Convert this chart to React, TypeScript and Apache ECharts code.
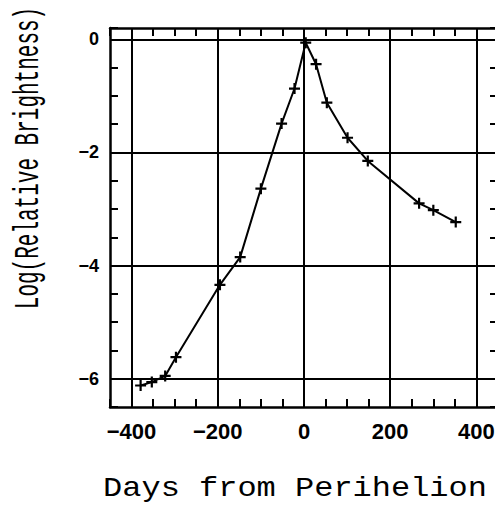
import React, { useEffect, useRef } from "react";
import * as echarts from "echarts";

const days = [-379, -353, -322, -297, -195, -148, -100, -52, -22, 4, 28, 53, 101, 148, 267, 300, 352];
const logBrightness = [-6.12, -6.06, -5.95, -5.62, -4.34, -3.85, -2.64, -1.49, -0.87, -0.06, -0.44, -1.12, -1.74, -2.15, -2.9, -3.02, -3.23];
const xMajorTicks = [-400, -200, 0, 200, 400];
const yMajorTicks = [0, -2, -4, -6];
const xTitle = "Days from Perihelion";
const yTitle = "Log(Relative Brightness)";

const fmt = (v: number) => (v < 0 ? "\u2212" + String(-v) : String(Math.abs(v)));

export default function App() {
  const ref = useRef<HTMLDivElement>(null);
  useEffect(() => {
    if (!ref.current) return;
    const chart = echarts.init(ref.current, null, { renderer: "svg" });
    const data = days.map((d, i) => [d, logBrightness[i]]);
    const gridLines = [
      ...xMajorTicks.map((v) => ({ xAxis: v })),
      ...yMajorTicks.map((v) => ({ yAxis: v })),
    ];
    const xBase = {
      type: "value",
      min: -450,
      max: 450,
      interval: 50,
      splitLine: { show: false },
      axisLine: { show: true, onZero: false, lineStyle: { color: "#000", width: 2.5 } },
      axisTick: { show: true, inside: true, length: 8, lineStyle: { color: "#000", width: 2 } },
    };
    const yBase = {
      type: "value",
      min: -6.5,
      max: 0.2,
      interval: 0.5,
      splitLine: { show: false },
      axisLine: { show: true, onZero: false, lineStyle: { color: "#000", width: 2.5 } },
      axisTick: { show: true, inside: true, length: 8, lineStyle: { color: "#000", width: 2 } },
    };
    chart.setOption({
      animation: false,
      backgroundColor: "#fff",
      grid: { left: 110, right: -3, top: 28, bottom: 99, containLabel: false, outerBoundsMode: "none" },
      xAxis: [
        {
          ...xBase,
          position: "bottom",
          axisLabel: {
            show: true,
            interval: 0,
            margin: 13,
            color: "#000",
            fontFamily: "Liberation Sans",
            fontWeight: "bold",
            fontSize: 22,
            formatter: (v: number) =>
              xMajorTicks.some((t) => Math.abs(t - v) < 1e-6) ? fmt(v) : "",
          },
        },
        { ...xBase, position: "top", axisLabel: { show: false } },
      ],
      yAxis: [
        {
          ...yBase,
          position: "left",
          axisLabel: {
            show: true,
            interval: 0,
            margin: 11,
            color: "#000",
            fontFamily: "Liberation Sans",
            fontWeight: "bold",
            fontSize: 18,
            formatter: (v: number) =>
              yMajorTicks.some((t) => Math.abs(t - v) < 1e-6) ? fmt(v) : "",
          },
        },
        { ...yBase, position: "right", axisLabel: { show: false } },
      ],
      graphic: [
        {
          type: "text",
          x: 295,
          y: 489,
          scaleX: 1.185,
          style: {
            text: xTitle,
            fontFamily: "Liberation Mono",
            fontSize: 27,
            fill: "#000",
            textAlign: "center",
            textVerticalAlign: "middle",
          },
        },
        {
          type: "text",
          x: 29,
          y: 158,
          rotation: Math.PI / 2,
          scaleX: 0.6,
          style: {
            text: yTitle,
            fontFamily: "Liberation Mono",
            fontSize: 35,
            fill: "#000",
            textAlign: "center",
            textVerticalAlign: "middle",
          },
        },
      ],
      series: [
        {
          type: "line",
          data,
          xAxisIndex: 0,
          yAxisIndex: 0,
          symbol: "path://M4,0h2v4h4v2h-4v4h-2v-4h-4v-2h4z",
          symbolSize: 11,
          showSymbol: true,
          lineStyle: { color: "#000", width: 2 },
          itemStyle: { color: "#000" },
          z: 5,
          markLine: {
            silent: true,
            symbol: ["none", "none"],
            label: { show: false },
            lineStyle: { color: "#000", type: "solid", width: 2 },
            emphasis: { disabled: true },
            data: gridLines,
            z: 1,
          },
        },
      ],
    });
    return () => chart.dispose();
  }, []);
  return (
    <div
      ref={ref}
      style={{ position: "absolute", left: 0, top: 0, width: 495, height: 506 }}
    />
  );
}
